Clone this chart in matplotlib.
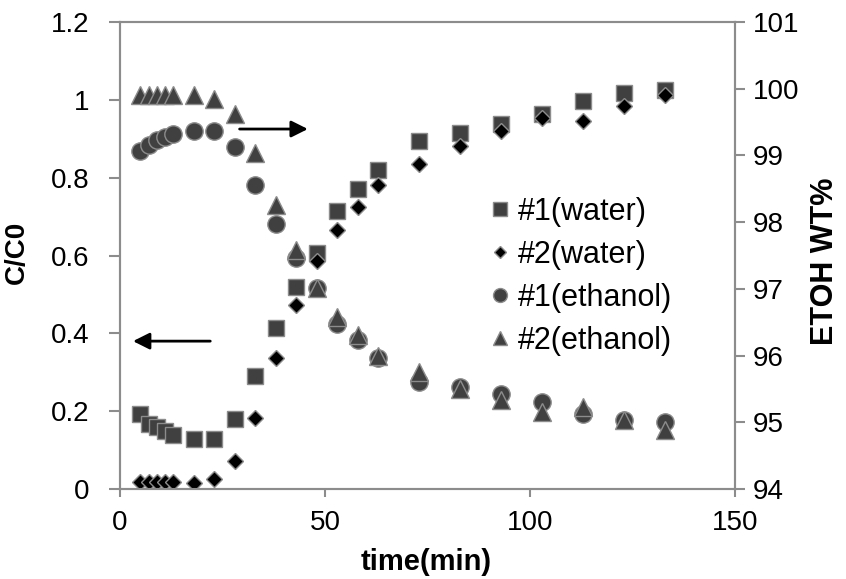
import matplotlib
matplotlib.use("Agg")
import matplotlib.pyplot as plt

plt.rcParams['font.family'] = ['Liberation Sans', 'DejaVu Sans']

time = [5, 7, 9, 11, 13, 18, 23, 28, 33, 38, 43, 48, 53, 58, 63, 73, 83, 93, 103, 113, 123, 133]
water1 = [0.192, 0.167, 0.159, 0.150, 0.139, 0.128, 0.128, 0.179, 0.290, 0.413, 0.520, 0.607,
          0.715, 0.770, 0.820, 0.895, 0.916, 0.938, 0.964, 0.996, 1.017, 1.026]
water2 = [0.017, 0.017, 0.017, 0.017, 0.017, 0.015, 0.025, 0.072, 0.183, 0.336, 0.473, 0.587,
          0.666, 0.724, 0.781, 0.835, 0.882, 0.920, 0.953, 0.946, 0.983, 1.013]
eth1 = [99.06, 99.16, 99.23, 99.28, 99.32, 99.37, 99.37, 99.12, 98.56, 97.97, 97.46, 97.01,
        96.48, 96.23, 95.97, 95.61, 95.53, 95.43, 95.30, 95.13, 95.03, 95.00]
eth2 = [99.90, 99.90, 99.90, 99.90, 99.90, 99.90, 99.85, 99.62, 99.04, 98.26, 97.58, 97.01,
        96.58, 96.31, 96.00, 95.76, 95.50, 95.33, 95.16, 95.23, 95.03, 94.88]
labels = ['#1(water)', '#2(water)', '#1(ethanol)', '#2(ethanol)']

fig = plt.figure(figsize=(8.46, 5.79), dpi=100)
ax = fig.add_axes([0.1418, 0.1554, 0.727, 0.8066])
ax2 = ax.twinx()

dark = '#404040'
edge = '#8c8c8c'
fs = 20

h3, = ax2.plot(time, eth1, 'o', ms=12.5, color=dark, mec=edge, mew=1, label=labels[2], linestyle='none')
h4, = ax2.plot(time, eth2, '^', ms=12.5, color=dark, mec=edge, mew=1, label=labels[3], linestyle='none')
h1, = ax.plot(time, water1, 's', ms=12, color=dark, mec=edge, mew=1, label=labels[0], linestyle='none')
h2, = ax.plot(time, water2, 'D', ms=8, color='black', mec=edge, mew=1, label=labels[1], linestyle='none')
ax.set_zorder(ax2.get_zorder() + 1)
ax.patch.set_visible(False)

ax.set_xlim(0, 150)
ax.set_ylim(0, 1.2)
ax2.set_ylim(94, 101)
ax.set_xticks([0, 50, 100, 150])
ax.set_yticks([0, 0.2, 0.4, 0.6, 0.8, 1.0, 1.2])
ax.set_yticklabels(['0', '0.2', '0.4', '0.6', '0.8', '1', '1.2'])
ax2.set_yticks(range(94, 102))

spine_c = '#8c8c8c'
for a in (ax, ax2):
    for s in a.spines.values():
        s.set_color(spine_c)
        s.set_linewidth(1.5)
    a.tick_params(colors=spine_c, labelcolor='black', labelsize=fs, width=1.5, direction='out')
ax.tick_params(axis='x', length=6, pad=9)
ax.tick_params(axis='y', length=8, pad=14)
ax2.tick_params(axis='y', length=7, pad=6)

ax.set_xlabel('time(min)', fontsize=21, fontweight='bold', va='center')
ax.xaxis.set_label_coords(0.498, -0.156)
ax.set_ylabel('C/C0', fontsize=20, fontweight='bold', va='center')
ax.yaxis.set_label_coords(-0.1675, 0.507)
ax2.set_ylabel('ETOH WT%', fontsize=22, fontweight='bold', va='center')
ax2.yaxis.set_label_coords(1.146, 0.488)

ax.annotate('', xy=(46.5, 0.925), xytext=(28.5, 0.925),
            arrowprops=dict(arrowstyle='-|>', color='black', lw=2, mutation_scale=25))
ax.annotate('', xy=(2.5, 0.38), xytext=(22.7, 0.38),
            arrowprops=dict(arrowstyle='-|>', color='black', lw=2, mutation_scale=25))

leg = ax.legend(handles=[h1, h2, h3, h4], loc='upper left', bbox_to_anchor=(0.603, 0.625),
                frameon=False, fontsize=22, handlelength=0.6, handletextpad=0.3,
                labelspacing=0.42, borderpad=0, borderaxespad=0, markerscale=0.8)

fig.savefig('out.png', dpi=100)
